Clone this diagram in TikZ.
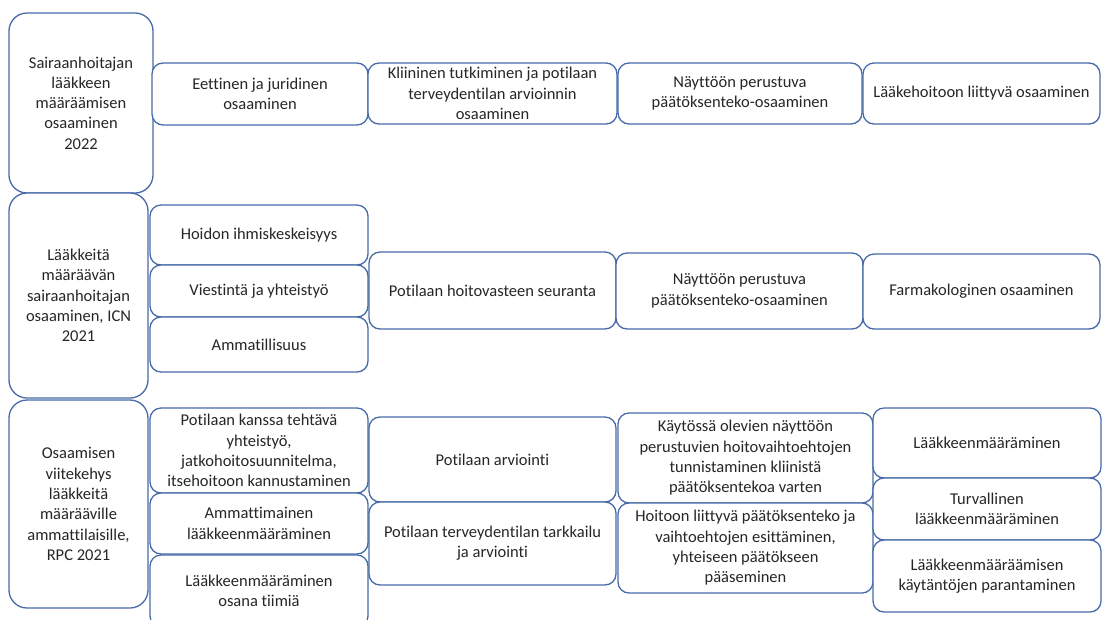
\documentclass[tikz,border=0pt]{standalone}
\usepackage{fontspec}
\setmainfont{Carlito}[Ligatures={NoCommon}]
\definecolor{boxblue}{RGB}{72,106,168}
\definecolor{boxtext}{RGB}{38,38,38}
\tikzstyle{source}=[rectangle,rounded corners=18pt,align=center,draw=boxblue,line width=1.3pt,fill=white,text=boxtext,inner sep=0pt]
\tikzstyle{item}=[rectangle,rounded corners=11pt,align=center,draw=boxblue,line width=1.3pt,fill=white,text=boxtext,inner sep=0pt]

\begin{document}
\begin{tikzpicture}[x=1pt,y=-1pt,font=\fontsize{16.5}{20.3}\selectfont]
            \useasboundingbox (0,0) rectangle (1102,619);
            % vasen sarake
            \node (source1)[source,minimum width=144pt,minimum height=180pt] at (81,103){Sairaanhoitajan\\lääkkeen\\määräämisen\\osaaminen\\2022};
            \node (source2)[source,minimum width=139pt,minimum height=205pt] at (78.5,295.5){Lääkkeitä\\määräävän\\sairaanhoitajan\\osaaminen, ICN\\2021};
            \node (source3)[source,minimum width=139pt,minimum height=208pt] at (78.5,504){Osaamisen\\viitekehys\\lääkkeitä\\määrääville\\ammattilaisille,\\RPC 2021};
            % rivi 1
            \node (item11)[item,minimum width=216pt,minimum height=62pt] at (260,94){Eettinen ja juridinen\\osaaminen};
            \node (item12)[item,minimum width=249pt,minimum height=61pt] at (492.5,93.5){Kliininen tutkiminen ja potilaan\\terveydentilan arvioinnin\\osaaminen};
            \node (item13)[item,minimum width=244pt,minimum height=61pt] at (740,93.5){Näyttöön perustuva\\päätöksenteko-osaaminen};
            \node (item14)[item,minimum width=237pt,minimum height=61pt] at (981.5,93.5){Lääkehoitoon liittyvä osaaminen};
            % rivi 2
            \node (item21)[item,minimum width=218pt,minimum height=60pt] at (259,235){Hoidon ihmiskeskeisyys};
            \node (item22)[item,minimum width=218pt,minimum height=52pt] at (259,291){Viestintä ja yhteistyö};
            \node (item23)[item,minimum width=218pt,minimum height=55pt] at (259,344.5){Ammatillisuus};
            \node (item24)[item,minimum width=247pt,minimum height=77pt] at (492.5,290.5){Potilaan hoitovasteen seuranta};
            \node (item25)[item,minimum width=247pt,minimum height=76pt] at (739.5,291){Näyttöön perustuva\\päätöksenteko-osaaminen};
            \node (item26)[item,minimum width=237pt,minimum height=75pt] at (981.5,291.5){Farmakologinen osaaminen};
            % rivi 3
            \node (item31)[item,minimum width=218pt,minimum height=85pt] at (259,450.5){Potilaan kanssa tehtävä\\yhteistyö,\\jatkohoitosuunnitelma,\\itsehoitoon kannustaminen};
            \node (item32)[item,minimum width=218pt,minimum height=61pt] at (259,523.5){Ammattimainen\\lääkkeenmääräminen};
            \node (item33)[item,minimum width=218pt,minimum height=72pt] at (259,591){Lääkkeenmääräminen\\osana tiimiä};
            \node (item34)[item,minimum width=247pt,minimum height=85pt] at (492.5,459.5){Potilaan arviointi};
            \node (item35)[item,minimum width=247pt,minimum height=83pt] at (492.5,543.5){Potilaan terveydentilan tarkkailu\\ja arviointi};
            \node (item36)[item,minimum width=255pt,minimum height=90pt] at (745.5,458){Käytössä olevien näyttöön\\perustuvien hoitovaihtoehtojen\\tunnistaminen kliinistä\\päätöksentekoa varten};
            \node (item37)[item,minimum width=255pt,minimum height=90pt] at (745.5,548){Hoitoon liittyvä päätöksenteko ja\\vaihtoehtojen esittäminen,\\yhteiseen päätökseen\\pääseminen};
            \node (item38)[item,minimum width=228pt,minimum height=70pt] at (987,443){Lääkkeenmääräminen};
            \node (item39)[item,minimum width=228pt,minimum height=62pt] at (987,509){Turvallinen\\lääkkeenmääräminen};
            \node (item310)[item,minimum width=228pt,minimum height=72pt] at (987,576){Lääkkeenmääräämisen\\käytäntöjen parantaminen};
        \end{tikzpicture}
\end{document}
